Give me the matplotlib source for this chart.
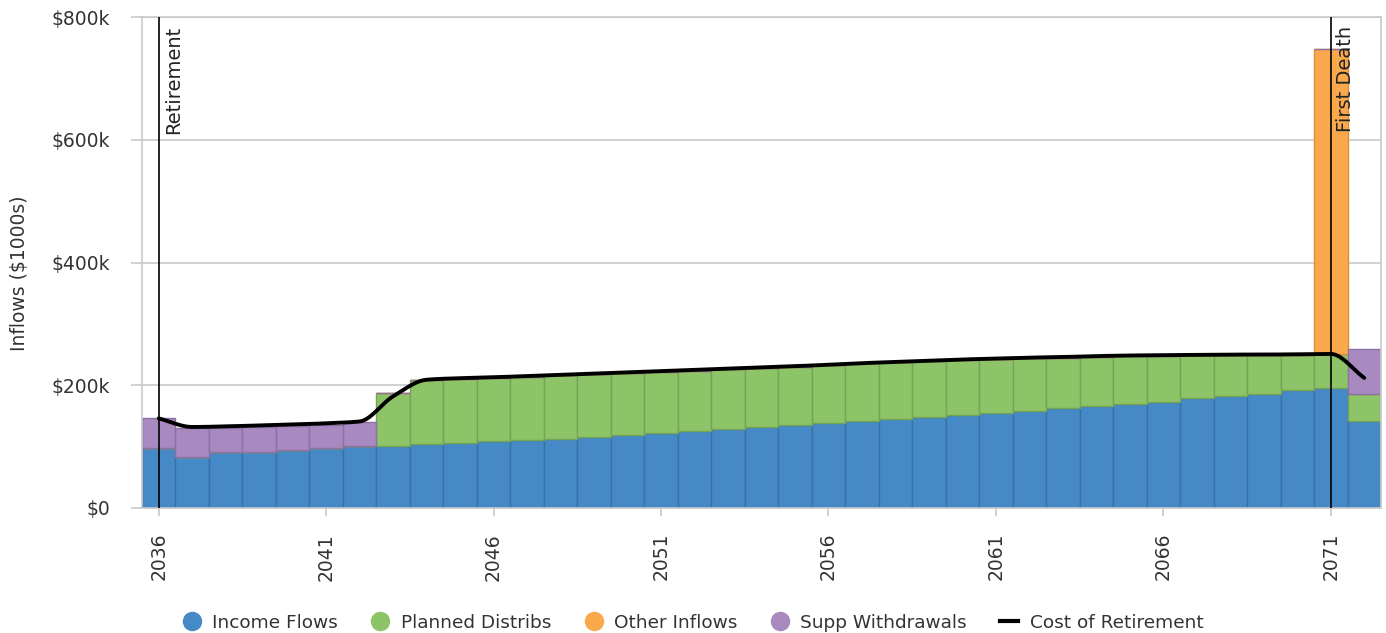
import matplotlib.pyplot as plt
from matplotlib.lines import Line2D
import numpy as np

plt.rcParams['font.family'] = ['DejaVu Sans']

years = list(range(2036, 2073))

# amounts in $1000s per year
income_flows = [98, 83, 92, 92, 94.5, 98, 100.5, 100.5, 103.5, 106.5,
                109.5, 111, 113, 116, 119, 122, 126, 128.5, 132, 135,
                138, 142, 145.5, 149, 151.5, 155, 158, 163.5, 167, 170,
                173.5, 179, 182.5, 186, 192, 195, 142]
planned_distribs = [0, 0, 0, 0, 0, 0, 0, 86.5, 105.5, 103.5,
                    102.5, 103, 103, 102, 101, 100, 98, 97.5, 96, 95,
                    95, 93.5, 92, 90.5, 89.5, 88, 86, 81.5, 79.5, 77.5,
                    74.5, 69.5, 66.5, 63, 57.5, 56, 44]
other_inflows = [0] * 35 + [497, 0]
supp_withdrawals = [49, 48, 38, 39.5, 39, 37, 39.5] + [0] * 29 + [73]
cost_of_retirement = [146, 132, 133, 134.5, 136, 138, 141, 182, 209, 211.5,
                      213, 215, 217, 219, 221, 223, 225, 227, 229, 231,
                      233.5, 236, 238, 240, 242, 243.5, 245, 246, 247.5, 248.5,
                      249, 249.5, 250, 250, 250.5, 251, 212]

events = [(2036, 'Retirement'), (2071, 'First Death')]

c_income, c_planned, c_other, c_supp = '#4589C7', '#8DC468', '#F9A94C', '#A889C0'
e_income, e_planned, e_other, e_supp = '#3A72A6', '#74A555', '#D98F3C', '#8C71A3'


def smooth(x, y, n=24):
    # monotone cubic (Fritsch-Carlson) through the yearly points
    x = np.asarray(x, float)
    y = np.asarray(y, float)
    h = np.diff(x)
    d = np.diff(y) / h
    m = np.zeros_like(y)
    m[0], m[-1] = d[0], d[-1]
    for i in range(1, len(y) - 1):
        if d[i - 1] * d[i] > 0:
            w1 = 2 * h[i] + h[i - 1]
            w2 = h[i] + 2 * h[i - 1]
            m[i] = (w1 + w2) / (w1 / d[i - 1] + w2 / d[i])
    xs, ys = [], []
    t = np.linspace(0, 1, n, endpoint=False)
    for i in range(len(x) - 1):
        h00 = 2 * t ** 3 - 3 * t ** 2 + 1
        h10 = t ** 3 - 2 * t ** 2 + t
        h01 = -2 * t ** 3 + 3 * t ** 2
        h11 = t ** 3 - t ** 2
        xs.extend(x[i] + t * h[i])
        ys.extend(h00 * y[i] + h10 * h[i] * m[i] + h01 * y[i + 1] + h11 * h[i] * m[i + 1])
    xs.append(x[-1])
    ys.append(y[-1])
    return np.array(xs), np.array(ys)


fig = plt.figure(figsize=(13.86, 6.33), dpi=100)
ax = fig.add_axes([142 / 1386, 125 / 633, 1239 / 1386, 491 / 633])

b1 = np.array(income_flows)
b2 = b1 + np.array(planned_distribs)
b3 = b2 + np.array(other_inflows)
ax.bar(years, income_flows, width=1, color=c_income, edgecolor=e_income, linewidth=1, zorder=2)
ax.bar(years, planned_distribs, width=1, bottom=b1, color=c_planned, edgecolor=e_planned, linewidth=1, zorder=2)
ax.bar(years, other_inflows, width=1, bottom=b2, color=c_other, edgecolor=e_other, linewidth=1, zorder=2)
ax.bar(years, supp_withdrawals, width=1, bottom=b3, color=c_supp, edgecolor=e_supp, linewidth=1, zorder=2)

sx, sy = smooth(years, cost_of_retirement)
ax.plot(sx, sy, color='black', linewidth=2.8, solid_capstyle='round', zorder=4)

for yr, label in events:
    ax.axvline(yr, color='black', linewidth=1.2, zorder=5)
    ax.text(yr + 0.17, 785, label, rotation=90, ha='left', va='top',
            fontsize=14, color='#222222', zorder=6)

ax.set_xlim(2035.5, 2072.5)
ax.set_ylim(0, 800)
ax.set_xticks(range(2036, 2072, 5))
ax.set_xticklabels([str(y) for y in range(2036, 2072, 5)], rotation=90)
ax.set_yticks(range(0, 801, 200))
ax.set_yticklabels(['$0'] + [f'${v}k' for v in range(200, 801, 200)])
ax.tick_params(axis='x', length=6, width=1.2, color='#C8C8C8', pad=12,
               labelsize=13.5, labelcolor='#333333')
ax.tick_params(axis='y', length=8, width=1.2, color='#C8C8C8', pad=15,
               labelsize=13.5, labelcolor='#333333')
ax.grid(axis='y', color='#C8C8C8', linewidth=1.2, zorder=0)
ax.set_axisbelow(True)
for s in ax.spines.values():
    s.set_color('#C8C8C8')
    s.set_linewidth(1.2)

fig.text(20 / 1386, 1 - 273 / 633, 'Inflows ($1000s)', rotation=90,
         ha='center', va='center', fontsize=13.5, color='#333333')

handles = [
    Line2D([], [], marker='o', linestyle='none', markersize=13, color=c_income),
    Line2D([], [], marker='o', linestyle='none', markersize=13, color=c_planned),
    Line2D([], [], marker='o', linestyle='none', markersize=13, color=c_other),
    Line2D([], [], marker='o', linestyle='none', markersize=13, color=c_supp),
    Line2D([], [], color='black', linewidth=3),
]
labels = ['Income Flows', 'Planned Distribs', 'Other Inflows', 'Supp Withdrawals', 'Cost of Retirement']
fig.legend(handles, labels, loc='lower center', bbox_to_anchor=(0.5, -0.024), ncol=5,
           frameon=False, fontsize=13.3, handlelength=1.0, handletextpad=0.6,
           columnspacing=1.8, labelcolor='#333333')

fig.savefig('out.png', dpi=100)
